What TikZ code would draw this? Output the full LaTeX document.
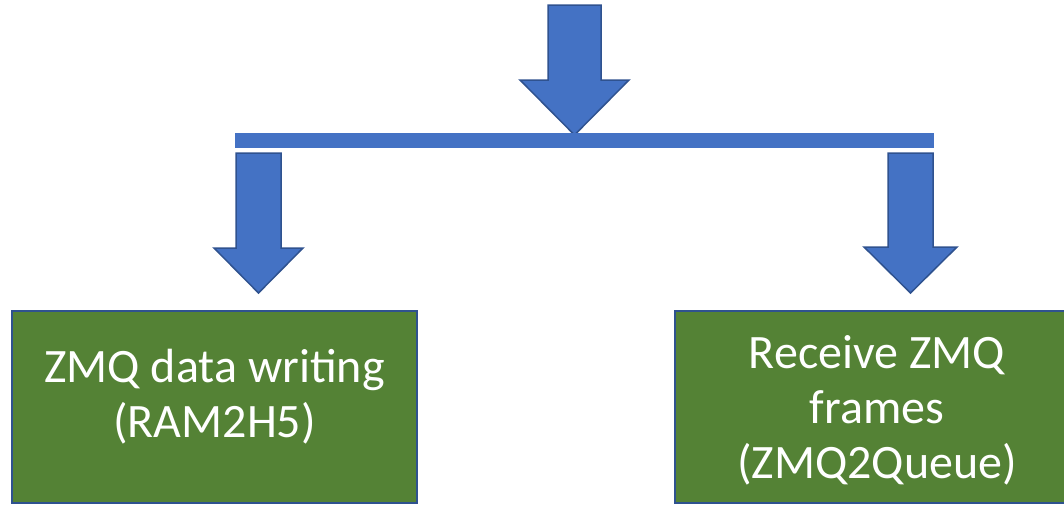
\documentclass[tikz,border=0pt]{standalone}
\usepackage{fontspec}
\setmainfont{Carlito}
\definecolor{arrowblue}{HTML}{4472C4}
\definecolor{edgeblue}{HTML}{2F528F}
\definecolor{boxgreen}{HTML}{548235}
\tikzset{
  blockarrow/.style={fill=arrowblue, draw=edgeblue, line width=1.5pt, line join=miter},
  stagebox/.style={rectangle, fill=boxgreen, draw=edgeblue, line width=2pt, inner sep=0pt},
  stagetext/.style={text=white, font=\fontsize{48}{55}\selectfont, align=center, inner sep=0pt, anchor=base},
}
% block arrow: #1 = centre x, #2 = top y, #3 = shaft half width, #4 = head y, #5 = head half width, #6 = tip y
\newcommand{\downarrowshape}[6]{%
  \fill[blockarrow] (#1-#3,#2) -- (#1+#3,#2) -- (#1+#3,#4) -- (#1+#5,#4)
    -- (#1,#6) -- (#1-#5,#4) -- (#1-#3,#4) -- cycle;}
\begin{document}
\begin{tikzpicture}[x=1pt, y=-1pt]
  \useasboundingbox (0,0) rectangle (1064,504);
  \clip (0,0) rectangle (1064,504);

  % incoming arrow and splitting bar
  \downarrowshape{574.5}{5}{26.5}{80}{54.5}{135}
  \fill[arrowblue] (235,133) rectangle (934,148);

  % branch arrows
  \downarrowshape{258.5}{153}{22.5}{248}{44.5}{293}
  \downarrowshape{910.5}{153}{22.5}{247}{46.5}{293}

  % processing stages
  \node[stagebox, minimum width=405pt, minimum height=192pt] (writer box) at (214.5,407) {};
  \node[stagetext] (writer) at (214.5,437) {ZMQ data writing\\(RAM2H5)};

  \node[stagebox, minimum width=404pt, minimum height=192pt] (receiver box) at (877,407) {};
  \node[stagetext] (receiver) at (877,478) {Receive ZMQ\\frames\\(ZMQ2Queue)};
\end{tikzpicture}
\end{document}
